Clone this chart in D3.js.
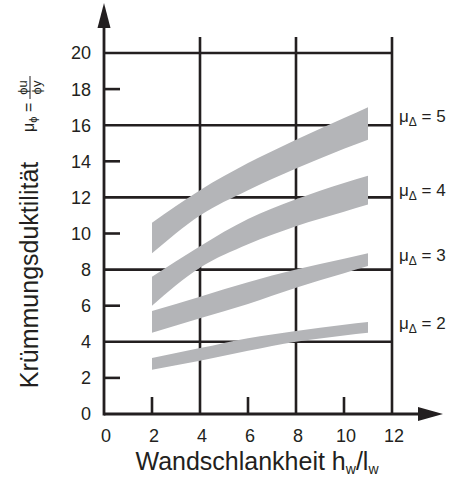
<!DOCTYPE html>
<html>
<head>
<meta charset="utf-8">
<script src="https://cdn.jsdelivr.net/npm/d3@7"></script>
<style>
  html, body { margin: 0; padding: 0; background: #fff; }
  svg { display: block; font-family: "Liberation Sans", Arial, Helvetica, sans-serif; }
</style>
</head>
<body>
<svg id="chart" width="453" height="478"></svg>
<script>
// Wall slenderness on the x axis, sampled where the band outlines were read
const slenderness = [2, 4, 6, 8, 10, 11];

// Curvature ductility bands, one per displacement ductility level
const ductility = [5, 4, 3, 2];
const upper5 = [10.6, 12.4, 13.9, 15.2, 16.4, 17.0];
const lower5 = [8.9, 11.0, 12.4, 13.6, 14.7, 15.2];
const upper4 = [7.6, 9.3, 10.8, 11.9, 12.8, 13.2];
const lower4 = [6.0, 8.1, 9.4, 10.4, 11.2, 11.6];
const upper3 = [5.7, 6.5, 7.3, 8.0, 8.6, 8.9];
const lower3 = [4.5, 5.3, 6.1, 7.0, 7.8, 8.2];
const upper2 = [3.1, 3.65, 4.2, 4.6, 4.95, 5.1];
const lower2 = [2.45, 2.95, 3.5, 4.0, 4.35, 4.5];

// Label heights (in curvature-ductility units) for the band captions
const captionAt = [16.2, 12.1, 8.5, 4.7];

// Axis ticks
const xTickLabels = [0, 2, 4, 6, 8, 10, 12];
const yTickLabels = [0, 2, 4, 6, 8, 10, 12, 14, 16, 18, 20];
const xGrid = [4, 8, 12];
const yGrid = [4, 8, 12, 16, 20];
const xShortTicks = [2, 6, 10];
const yShortTicks = [2, 6, 10, 14, 18];

const ink = "#231f20";
const bandFill = "#b4b5b8";

const svg = d3.select("#chart");
const x = d3.scaleLinear().domain([0, 12]).range([104, 392]);
const y = d3.scaleLinear().domain([0, 20]).range([414, 53]);

const bands = [
  { level: 5, upper: upper5, lower: lower5 },
  { level: 4, upper: upper4, lower: lower4 },
  { level: 3, upper: upper3, lower: lower3 },
  { level: 2, upper: upper2, lower: lower2 }
];

// Grid lines
const grid = svg.append("g").attr("stroke", ink).attr("stroke-width", 2.6);
grid.selectAll("line.v").data(xGrid).join("line")
  .attr("x1", d => x(d)).attr("x2", d => x(d))
  .attr("y1", y(0)).attr("y2", y(20) - 16);
grid.selectAll("line.h").data(yGrid).join("line")
  .attr("x1", x(0)).attr("x2", x(12))
  .attr("y1", d => y(d)).attr("y2", d => y(d));

// Short ticks
grid.selectAll("line.xt").data(xShortTicks).join("line")
  .attr("x1", d => x(d)).attr("x2", d => x(d))
  .attr("y1", y(0)).attr("y2", y(0) - 17);
grid.selectAll("line.yt").data(yShortTicks).join("line")
  .attr("x1", x(0)).attr("x2", x(0) + 16)
  .attr("y1", d => y(d)).attr("y2", d => y(d));

// Axes with arrow heads
svg.append("line").attr("x1", x(0)).attr("x2", 422).attr("y1", y(0)).attr("y2", y(0))
  .attr("stroke", ink).attr("stroke-width", 2.8);
svg.append("line").attr("x1", x(0)).attr("x2", x(0)).attr("y1", y(0) + 1.4).attr("y2", 24)
  .attr("stroke", ink).attr("stroke-width", 2.8);
svg.append("path").attr("d", `M${x(0)},3 L${x(0) - 6.5},28 L${x(0) + 6.5},28 Z`).attr("fill", ink);
svg.append("path").attr("d", `M443,${y(0)} L418,${y(0) - 7} L418,${y(0) + 7} Z`).attr("fill", ink);

// Bands
const area = d3.area()
  .x((d, i) => x(slenderness[i]))
  .y0(d => y(d[0]))
  .y1(d => y(d[1]))
  .curve(d3.curveMonotoneX);
svg.append("g").selectAll("path").data(bands).join("path")
  .attr("d", b => area(b.lower.map((v, i) => [v, b.upper[i]])))
  .attr("fill", bandFill);

// Tick labels
svg.append("g").selectAll("text").data(yTickLabels).join("text")
  .attr("x", 91).attr("y", d => y(d)).attr("dy", "0.36em")
  .attr("text-anchor", "end").attr("font-size", 18).attr("fill", ink)
  .text(d => d);
svg.append("g").selectAll("text").data(xTickLabels).join("text")
  .attr("x", d => x(d) + 2).attr("y", 442)
  .attr("text-anchor", "middle").attr("font-size", 18).attr("fill", ink)
  .text(d => d);

// Band captions
const cap = svg.append("g").selectAll("text").data(ductility).join("text")
  .attr("x", 399).attr("y", (d, i) => y(captionAt[i]))
  .attr("font-size", 17).attr("fill", ink);
cap.append("tspan").text("\u03bc");
cap.append("tspan").attr("font-size", 12).attr("dy", 4).text("\u0394");
cap.append("tspan").attr("dy", -4).text(d => " = " + d);

// X axis title
const xt = svg.append("text").attr("x", 257).attr("y", 470)
  .attr("text-anchor", "middle").attr("font-size", 25).attr("fill", ink);
xt.append("tspan").text("Wandschlankheit h");
xt.append("tspan").attr("font-size", 14).attr("dy", 4).text("w");
xt.append("tspan").attr("dy", -4).text("/l");
xt.append("tspan").attr("font-size", 14).attr("dy", 4).text("w");

// Y axis title
svg.append("text")
  .attr("transform", "translate(38,275) rotate(-90)")
  .attr("text-anchor", "middle").attr("font-size", 25).attr("fill", ink)
  .text("Krümmungsduktilität");

// Curvature ductility definition
const f = svg.append("g").attr("transform", "translate(37,132) rotate(-90)").attr("fill", ink);
const mu = f.append("text").attr("x", 0).attr("y", -3).attr("font-size", 16);
mu.append("tspan").text("\u03bc");
mu.append("tspan").attr("font-size", 11).attr("dy", 3).text("\u03d5");
f.append("text").attr("x", 20).attr("y", -3).attr("font-size", 16).text("=");
f.append("line").attr("x1", 33).attr("x2", 56).attr("y1", -7).attr("y2", -7)
  .attr("stroke", ink).attr("stroke-width", 1);
f.append("text").attr("x", 44.5).attr("y", -10).attr("text-anchor", "middle").attr("font-size", 13).text("\u03d5u");
f.append("text").attr("x", 44.5).attr("y", 4).attr("text-anchor", "middle").attr("font-size", 13).text("\u03d5y");
</script>
</body>
</html>
